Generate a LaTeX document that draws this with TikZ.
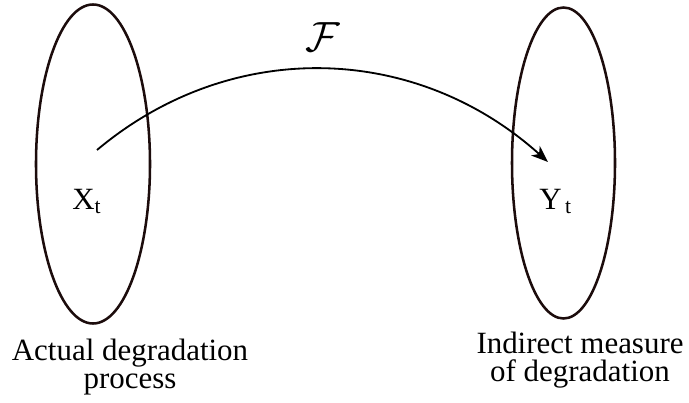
\documentclass[tikz,border=0pt]{standalone}
\usepackage{fix-cm}
\usepackage{fontspec}
\setmainfont{Liberation Serif}
\usepackage{amsmath}
\usepackage{tikz}
\usetikzlibrary{arrows.meta}
\definecolor{setbrd}{HTML}{1C0C0C}
\tikzset{
  setell/.style  = {draw=setbrd, line width=1.8pt},
  mapto/.style   = {-{Stealth[length=0.42cm, width=0.32cm, inset=0.12cm]}, line width=1.3pt},
  varlab/.style  = {font=\fontsize{22}{19.2}\selectfont, inner sep=0pt},
  caplab/.style  = {font=\fontsize{22}{19.6}\selectfont, inner sep=0pt, align=center},
}

\begin{document}
\begin{tikzpicture}[x=0.025cm, y=0.025cm]
  \useasboundingbox (0,0) rectangle (689,402);
  \draw[setell] (93,238) ellipse (57 and 159.5);
  \draw[setell] (563.5,239) ellipse (51.5 and 155.5);
  \coordinate (S) at (97,252);
  \coordinate (T) at (548,240);
  \draw[mapto] (S) to[out=40, in=138] (T);
  \node[inner sep=0pt, font=\fontsize{30}{34}\selectfont] (F) at (323,365) {$\mathcal{F}$};
  \node[varlab, anchor=base west] (X) at (72,193) {X$_{\text{t}}$};
  \node[varlab, anchor=base west] (Y) at (539,193) {Y$_{\,\text{t}}$};
  \node[caplab, anchor=north] (LA) at (130,63) {Actual degradation\\process};
  \node[caplab, anchor=north] (LB) at (580,70) {Indirect measure\\of degradation};
\end{tikzpicture}
\end{document}
